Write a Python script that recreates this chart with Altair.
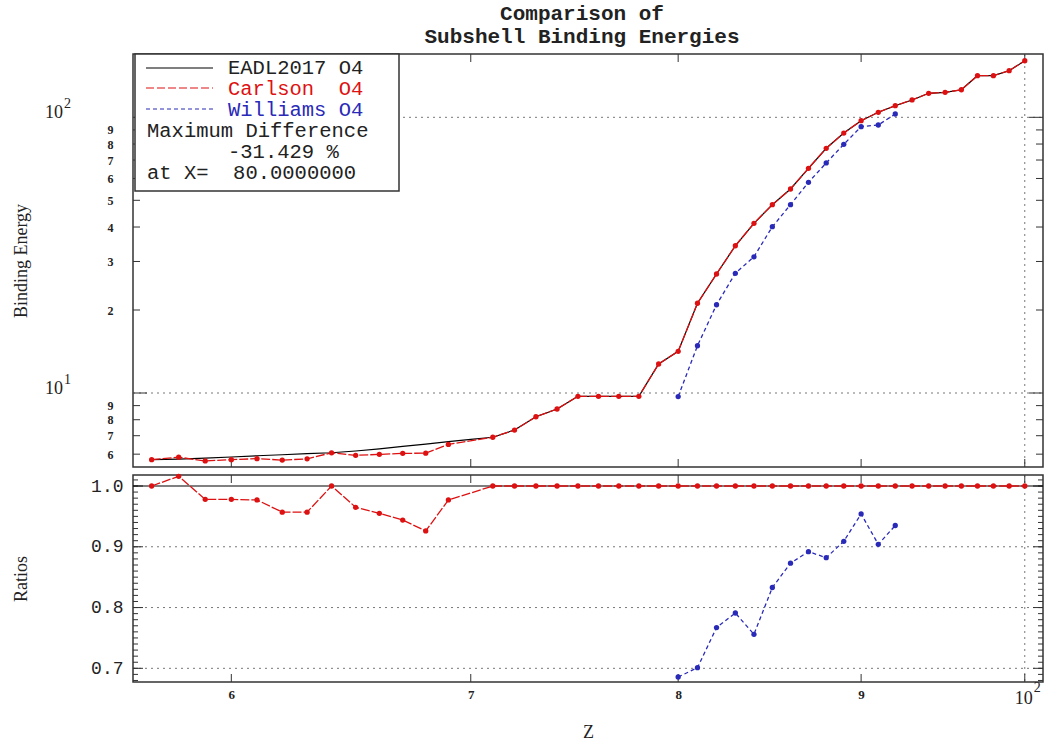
import altair as alt
import pandas as pd

# ---------------- data ----------------
eadl_z = [57, 58, 59, 60, 61, 62, 63, 64, 65, 66, 67, 68, 69, 70, 71,
          72, 73, 74, 75, 76, 77, 78,
          79, 80, 81, 82, 83, 84, 85, 86, 87, 88, 89, 90, 91, 92, 93, 94, 95, 96, 97, 98, 99, 100]
eadl_e = [5.73, 5.76, 5.80, 5.86, 5.92, 5.97, 6.03, 6.07, 6.16, 6.27, 6.40, 6.53, 6.66, 6.79, 6.91,
          7.34, 8.20, 8.75, 9.73, 9.73, 9.73, 9.73,
          12.74, 14.16, 21.16, 27.02, 34.21, 41.26, 48.2, 54.95, 65.3, 77.2, 87.7, 97.2, 104.3, 110.2,
          115.6, 122.2, 123.2, 125.9, 141.6, 141.6, 147.6, 160.4]

carlson_z = [57, 58, 59, 60, 61, 62, 63, 64, 65, 66, 67, 68, 69,
             71, 72, 73, 74, 75, 76, 77, 78, 79, 80, 81, 82, 83, 84, 85, 86, 87, 88, 89, 90,
             91, 92, 93, 94, 95, 96, 97, 98, 99, 100]
carlson_e = [5.73, 5.85, 5.67, 5.73, 5.78, 5.71, 5.77, 6.07, 5.94, 5.99, 6.04, 6.05, 6.51,
             6.91, 7.34, 8.20, 8.75, 9.73, 9.73, 9.73, 9.73, 12.74, 14.16, 21.16, 27.02, 34.21,
             41.26, 48.2, 54.95, 65.3, 77.2, 87.7, 97.2, 104.3, 110.2, 115.6, 122.2, 123.2,
             125.9, 141.6, 141.6, 147.6, 160.4]
carlson_ratio = [1.0, 1.016, 0.978, 0.978, 0.977, 0.957, 0.957, 1.0, 0.965, 0.955, 0.944, 0.926, 0.977,
                 1.0, 1.0, 1.0, 1.0, 1.0, 1.0, 1.0, 1.0, 1.0, 1.0, 1.0, 1.0, 1.0, 1.0, 1.0, 1.0,
                 1.0, 1.0, 1.0, 1.0, 1.0, 1.0, 1.0, 1.0, 1.0, 1.0, 1.0, 1.0, 1.0, 1.0]

williams_z = [80, 81, 82, 83, 84, 85, 86, 87, 88, 89, 90, 91, 92]
williams_e = [9.71, 14.84, 20.9, 27.18, 31.2, 40.1, 48.2, 58.1, 68.3, 79.8, 92.5, 93.8, 102.8]
williams_ratio = [0.6857, 0.701, 0.767, 0.791, 0.756, 0.833, 0.873, 0.892, 0.882, 0.909,
                  0.954, 0.904, 0.935]

# tick values and labels
x_tick_values = [60, 70, 80, 90, 100]
x_tick_labels = ["6", "7", "8", "9", ""]
x_power_values = [100]
x_power_base = ["10"]
x_power_exp = ["2"]
top_major_values = [10, 100]
top_major_base = ["10", "10"]
top_major_exp = ["1", "2"]
top_minor_values = [6, 7, 8, 9, 20, 30, 40, 50, 60, 70, 80, 90]
ratio_major_values = [0.7, 0.8, 0.9, 1.0]
ratio_minor_values = [round(0.68 + 0.01 * i, 2) for i in range(34)]
ratio_reference = [1.0]

# ---------------- styles ----------------
W, H1, H2 = 910, 413, 207
RED = "#dd1111"
BLUE = "#2a2ab8"
INK = "#222222"
TICK = "#333333"
GRID = "#777777"
MONO = "Liberation Mono"
SERIF = "Liberation Serif"
NB = "\u00a0"

df_eadl = pd.DataFrame({"Z": eadl_z, "E": eadl_e})
df_carl = pd.DataFrame({"Z": carlson_z, "E": carlson_e, "R": carlson_ratio})
df_will = pd.DataFrame({"Z": williams_z, "E": williams_e, "R": williams_ratio})
df_xt = pd.DataFrame({"Z": x_tick_values})
df_xpow = pd.DataFrame({"Z": x_power_values, "b": x_power_base, "e": x_power_exp})
df_xgrid = pd.DataFrame({"Z": [100]})
df_tmaj = pd.DataFrame({"E": top_major_values, "b": top_major_base, "e": top_major_exp})
df_tmin = pd.DataFrame({"E": top_minor_values})
df_rmaj = pd.DataFrame({"R": ratio_major_values})
df_rmin = pd.DataFrame({"R": ratio_minor_values})
df_rgrid = pd.DataFrame({"R": [v for v in ratio_major_values if v < 1.0]})
df_rref = pd.DataFrame({"R": ratio_reference})
one = pd.DataFrame({"k": [0]})

xs = alt.Scale(type="log", domain=[56.32, 101.18], nice=False)
ys_top = alt.Scale(type="log", domain=[5.39, 169.7], nice=False)
ys_bot = alt.Scale(domain=[0.6775, 1.0181], nice=False, zero=False)

x_label_expr = "''"
for v, l in reversed(list(zip(x_tick_values, x_tick_labels))):
    x_label_expr = f"datum.value == {v} ? '{l}' : ({x_label_expr})"

top_y_axis = alt.Axis(
    values=top_minor_values,
    labelExpr="datum.value < 10 ? format(datum.value, 'd') : format(datum.value / 10, 'd')",
    ticks=False, domain=False, grid=False, labelPadding=20,
    labelFont=SERIF, labelFontSize=12, labelFontWeight="bold", labelColor=INK,
    title="Binding Energy", titleFont=SERIF, titleFontSize=18, titleFontWeight="normal",
    titleColor=INK, titleX=-112, titleBaseline="middle",
)
bot_y_axis = alt.Axis(
    values=ratio_major_values, format=".1f",
    ticks=False, domain=False, grid=False, labelPadding=10,
    labelFont=MONO, labelFontSize=18, labelColor=INK,
    title="Ratios", titleFont=SERIF, titleFontSize=18, titleFontWeight="normal",
    titleColor=INK, titleX=-112, titleBaseline="middle",
)
bot_x_axis = alt.Axis(
    values=x_tick_values, labelExpr=x_label_expr,
    ticks=False, domain=False, grid=False, labelPadding=6,
    labelFont=SERIF, labelFontSize=13, labelFontWeight="bold", labelColor=INK,
    title="Z", titleFont=SERIF, titleFontSize=18, titleFontWeight="normal",
    titleColor=INK, titlePadding=22,
)

X_top = alt.X("Z:Q", scale=xs, axis=None)
Y_top = alt.Y("E:Q", scale=ys_top, axis=top_y_axis)
X_bot = alt.X("Z:Q", scale=xs, axis=bot_x_axis)
Y_bot = alt.Y("R:Q", scale=ys_bot, axis=bot_y_axis)


def xticks(X, H, length):
    b = alt.Chart(df_xt).mark_rule(color=TICK, strokeWidth=1).encode(
        x=X, y=alt.value(H), y2=alt.value(H - length))
    t = alt.Chart(df_xt).mark_rule(color=TICK, strokeWidth=1).encode(
        x=X, y=alt.value(0), y2=alt.value(length))
    return [b, t]


def yticks(df, Y, length):
    l = alt.Chart(df).mark_rule(color=TICK, strokeWidth=1).encode(
        y=Y, x=alt.value(0), x2=alt.value(length))
    r = alt.Chart(df).mark_rule(color=TICK, strokeWidth=1).encode(
        y=Y, x=alt.value(W), x2=alt.value(W - length))
    return [l, r]


def hgrid(df, Y):
    return alt.Chart(df).mark_rule(color=GRID, strokeWidth=1, strokeDash=[2, 4]).encode(
        y=Y, x=alt.value(0), x2=alt.value(W))


def vgrid(X, H):
    return alt.Chart(df_xgrid).mark_rule(color=GRID, strokeWidth=1, strokeDash=[2, 4]).encode(
        x=X, y=alt.value(0), y2=alt.value(H))


# ---------------- top panel ----------------
top_layers = [
    hgrid(df_tmaj, Y_top),
    vgrid(X_top, H1),
    *xticks(X_top, H1, 8),
    *yticks(df_tmaj, Y_top, 14),
    *yticks(df_tmin, Y_top, 7),
    alt.Chart(df_eadl).mark_line(color="black", strokeWidth=1.2).encode(x=X_top, y=Y_top),
    alt.Chart(df_carl).mark_line(color=RED, strokeWidth=1.3, strokeDash=[9, 2]).encode(x=X_top, y=Y_top),
    alt.Chart(df_carl).mark_point(color=RED, filled=True, size=28, opacity=1).encode(x=X_top, y=Y_top),
    alt.Chart(df_will).mark_line(color=BLUE, strokeWidth=1.3, strokeDash=[4, 3]).encode(x=X_top, y=Y_top),
    alt.Chart(df_will).mark_point(color=BLUE, filled=True, size=28, opacity=1).encode(x=X_top, y=Y_top),
    # powers of ten on the left
    alt.Chart(df_tmaj).mark_text(font=SERIF, fontSize=18, color=INK, align="right",
                                 baseline="middle", dy=-4).encode(
        y=Y_top, x=alt.value(-70), text="b:N"),
    alt.Chart(df_tmaj).mark_text(font=SERIF, fontSize=14, color=INK, align="left",
                                 baseline="middle", dy=-13).encode(
        y=Y_top, x=alt.value(-69), text="e:N"),
    # legend box
    alt.Chart(one).mark_rect(fill="white", stroke="#333333", strokeWidth=1.5).encode(
        x=alt.value(2), x2=alt.value(266), y=alt.value(0), y2=alt.value(137)),
    alt.Chart(one).mark_rule(color="black", strokeWidth=1.2).encode(
        x=alt.value(13), x2=alt.value(80), y=alt.value(14)),
    alt.Chart(one).mark_rule(color=RED, strokeWidth=1.2, strokeDash=[8, 3]).encode(
        x=alt.value(13), x2=alt.value(80), y=alt.value(34)),
    alt.Chart(one).mark_rule(color=BLUE, strokeWidth=1.2, strokeDash=[4, 3]).encode(
        x=alt.value(13), x2=alt.value(80), y=alt.value(55)),
]
legend_texts = [
    ("EADL2017 O4", 95, 14, INK),
    ("Carlson" + NB + NB + "O4", 95, 35, RED),
    ("Williams O4", 95, 56, BLUE),
    ("Maximum Difference", 14, 77, INK),
    ("-31.429 %", 95, 98, INK),
    ("at X=" + NB + NB + "80.0000000", 14, 119, INK),
]
for txt, tx, ty, col in legend_texts:
    top_layers.append(
        alt.Chart(one).mark_text(font=MONO, fontSize=20.5, color=col, align="left",
                                 baseline="middle").encode(
            x=alt.value(tx), y=alt.value(ty), text=alt.value(txt)))

top = alt.layer(*top_layers).properties(
    width=W, height=H1,
    title=alt.TitleParams(
        text=["Comparison of", "Subshell Binding Energies"],
        font=MONO, fontSize=21, fontWeight="bold", color=INK,
        anchor="middle", frame="group", offset=6, lineHeight=23, dx=-6),
)

# ---------------- bottom panel ----------------
bot_layers = [
    hgrid(df_rgrid, Y_bot),
    vgrid(X_bot, H2),
    *xticks(X_bot, H2, 8),
    *yticks(df_rmaj, Y_bot, 10),
    *yticks(df_rmin, Y_bot, 5),
    alt.Chart(df_rref).mark_rule(color="black", strokeWidth=1.2).encode(
        y=Y_bot, x=alt.value(0), x2=alt.value(W)),
    alt.Chart(df_carl).mark_line(color=RED, strokeWidth=1.3, strokeDash=[9, 2]).encode(x=X_bot, y=Y_bot),
    alt.Chart(df_carl).mark_point(color=RED, filled=True, size=28, opacity=1).encode(x=X_bot, y=Y_bot),
    alt.Chart(df_will).mark_line(color=BLUE, strokeWidth=1.3, strokeDash=[4, 3]).encode(x=X_bot, y=Y_bot),
    alt.Chart(df_will).mark_point(color=BLUE, filled=True, size=28, opacity=1).encode(x=X_bot, y=Y_bot),
    # power of ten label on the x axis
    alt.Chart(df_xpow).mark_text(font=SERIF, fontSize=18, color=INK, align="right",
                                 baseline="middle", dx=8).encode(
        x=X_bot, y=alt.value(H2 + 17), text="b:N"),
    alt.Chart(df_xpow).mark_text(font=SERIF, fontSize=14, color=INK, align="left",
                                 baseline="middle", dx=9).encode(
        x=X_bot, y=alt.value(H2 + 6), text="e:N"),
]
bottom = alt.layer(*bot_layers).properties(width=W, height=H2)

chart = alt.vconcat(top, bottom, spacing=3).properties(
    padding={"left": 11, "top": 2, "right": 5, "bottom": 4},
    background="white",
).configure_view(stroke="#333333", strokeWidth=1.5)

chart.save("out.html", embed_options={"renderer": "svg", "actions": False})
